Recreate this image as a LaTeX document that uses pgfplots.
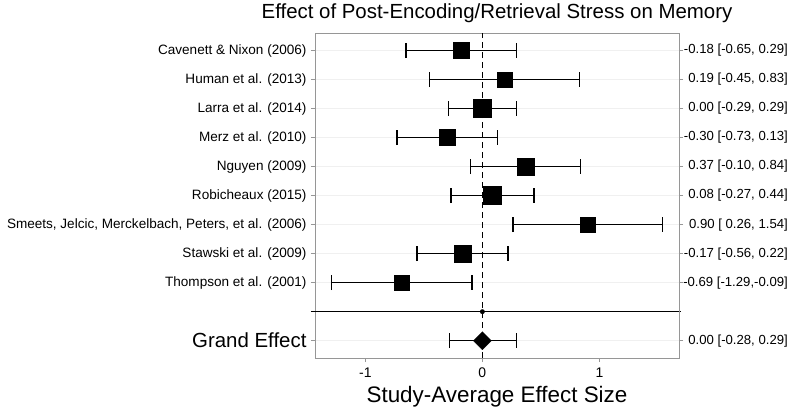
\documentclass[border=0pt]{standalone}
\usepackage{pgfplots}
\pgfplotsset{compat=1.18}
\usepackage{pgfplotstable}
\usepackage{fontspec}
\setmainfont{Liberation Sans}

\pgfplotstableread{
y est lo hi s
11 -0.18 -0.65 0.29 8
10 0.19 -0.45 0.83 7.5
9 0.00 -0.29 0.29 9
8 -0.30 -0.73 0.13 8
7 0.37 -0.10 0.84 8.5
6 0.08 -0.27 0.44 9
5 0.90 0.26 1.54 7.5
4 -0.17 -0.56 0.22 8.5
3 -0.69 -1.29 -0.09 7.2
}\studies

\pgfplotstableread{
y est lo hi
1 0.00 -0.28 0.29
}\grand

\definecolor{panelgray}{RGB}{150,150,150}
\definecolor{gridgray}{RGB}{240,240,240}

\begin{document}
\begin{tikzpicture}
\begin{axis}[
  at={(0,0)}, anchor=south west,
  scale only axis, width=364bp, height=325bp,
  xmin=-1.43, xmax=1.68, ymin=0.4, ymax=11.6,
  clip=false,
  axis line style={panelgray, line width=0.8bp},
  tick align=outside, major tick length=4bp,
  tick style={panelgray, line width=0.8bp},
  xtick={-1,0,1}, xticklabels={-1,0,1},
  xticklabel style={font=\fontsize{14}{16}\selectfont, yshift=-2bp},
  ytick={1,3,4,5,6,7,8,9,10,11},
  yticklabels={{\fontsize{20.5}{24}\selectfont Grand Effect},
    Thompson et al. (2001), Stawski et al. (2009),
    {Smeets, Jelcic, Merckelbach, Peters, et al. (2006)},
    Robicheaux (2015), Nguyen (2009), Merz et al. (2010),
    Larra et al. (2014), Human et al. (2013), Cavenett \& Nixon (2006)},
  yticklabel style={font=\fontsize{13.6}{15}\selectfont, xshift=-1bp},
  xtick pos=bottom, ytick pos=left,
  ymajorgrids, grid style={gridgray, line width=0.8bp},
  title={Effect of Post-Encoding/Retrieval Stress on Memory},
  title style={font=\fontsize{20.5}{24}\selectfont, at={(0.5,1)}, anchor=base, yshift=9bp},
  xlabel={Study-Average Effect Size},
  xlabel style={font=\fontsize{22.5}{26}\selectfont, at={(0.5,0)}, anchor=base, yshift=-44bp},
]
\addplot[black, line width=1.6bp, dash pattern=on 6bp off 4bp] coordinates {(0,0.4) (0,11.6)};
\addplot[black, line width=1.5bp] coordinates {(-1.465,2) (1.697,2)};
\addplot[only marks, mark=*, mark size=2.2bp, black] coordinates {(0,2)};
\addplot[draw=none, mark=none, black,
  error bars/.cd, x dir=both, x explicit, error mark=|,
  error bar style={line width=1.6bp, black},
  error mark options={black, line width=1.6bp, mark size=7.5bp}]
  table[x=est, y=y, x error plus expr=\thisrow{hi}-\thisrow{est}, x error minus expr=\thisrow{est}-\thisrow{lo}] {\studies};
\addplot[draw=none, mark=none, black,
  error bars/.cd, x dir=both, x explicit, error mark=|,
  error bar style={line width=1.6bp, black},
  error mark options={black, line width=1.6bp, mark size=7.5bp}]
  table[x=est, y=y, x error plus expr=\thisrow{hi}-\thisrow{est}, x error minus expr=\thisrow{est}-\thisrow{lo}] {\grand};
\addplot[scatter, only marks, mark=square*,
  scatter/use mapped color={draw=black, fill=black},
  visualization depends on={\thisrow{s}\as\msize},
  scatter/@pre marker code/.append style={/tikz/mark size=\msize bp},
  mark options={line width=0.2bp}]
  table[x=est, y=y] {\studies};
\addplot[only marks, mark=square*, black, mark size=6.4bp, mark options={rotate=45, line width=0.2bp}]
  table[x=est, y=y] {\grand};
\end{axis}
\begin{axis}[
  at={(0,0)}, anchor=south west,
  scale only axis, width=364bp, height=325bp,
  xmin=-1.43, xmax=1.68, ymin=0.4, ymax=11.6,
  hide x axis, axis y line*=right,
  y axis line style={panelgray, line width=0.8bp},
  tick align=outside, major tick length=4bp,
  tick style={panelgray, line width=0.8bp},
  ytick={1,3,4,5,6,7,8,9,10,11},
  yticklabels={{0.00 [-0.28, 0.29]}, {-0.69 [-1.29,-0.09]}, {-0.17 [-0.56, 0.22]},
    {0.90 [ 0.26, 1.54]}, {0.08 [-0.27, 0.44]}, {0.37 [-0.10, 0.84]},
    {-0.30 [-0.73, 0.13]}, {0.00 [-0.29, 0.29]}, {0.19 [-0.45, 0.83]},
    {-0.18 [-0.65, 0.29]}},
  yticklabel style={font=\fontsize{13.2}{15}\selectfont, anchor=east, inner sep=0pt, xshift=105bp},
]
\addplot[draw=none] coordinates {(0,1)};
\end{axis}
\path (-315bp,-57bp) rectangle (485bp,357bp);
\end{tikzpicture}
\end{document}
